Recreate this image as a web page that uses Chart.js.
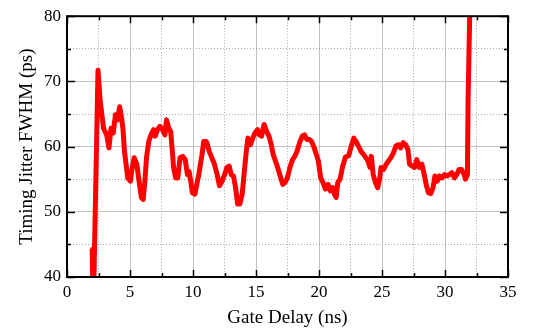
<!DOCTYPE html>
<html>
<head>
<meta charset="utf-8">
<script src="https://cdn.jsdelivr.net/npm/chart.js@4.4.1/dist/chart.umd.min.js"></script>
<style>
  html, body { margin: 0; padding: 0; background: #fff; }
  #wrap { width: 537px; height: 328px; }
</style>
</head>
<body>
<div id="wrap"><canvas id="myChart" width="537" height="328"></canvas></div>
<script>
// gate delay (ns) and timing jitter FWHM (ps)
var gateDelay = [
  2.0, 2.05, 2.12, 2.46, 2.64, 2.9, 3.15, 3.33, 3.49, 3.67, 3.85, 4.0, 4.18, 4.31, 4.44, 4.56, 4.69, 4.82,
  5.03, 5.13, 5.33, 5.54, 5.72, 5.9, 6.05, 6.18, 6.31, 6.49, 6.67, 6.87, 7.0, 7.18, 7.38, 7.59, 7.77, 7.9,
  8.08, 8.23, 8.36, 8.46, 8.62, 8.79, 8.97, 9.18, 9.38, 9.56, 9.69, 9.82, 9.95, 10.15, 10.33, 10.46, 10.59,
  10.72, 10.85, 11.03, 11.1, 11.28, 11.49, 11.67, 11.92, 12.1, 12.31, 12.51, 12.69, 12.87, 13.03, 13.21,
  13.38, 13.54, 13.72, 13.9, 14.05, 14.23, 14.36, 14.56, 14.74, 14.92, 15.13, 15.26, 15.44, 15.64, 15.85,
  16.03, 16.21, 16.36, 16.54, 16.72, 16.92, 17.13, 17.31, 17.49, 17.69, 17.9, 18.08, 18.26, 18.46, 18.67,
  18.85, 19.03, 19.23, 19.41, 19.62, 19.79, 19.95, 20.13, 20.31, 20.51, 20.72, 20.9, 21.08, 21.23, 21.36,
  21.49, 21.67, 21.88, 22.1, 22.36, 22.55, 22.76, 22.94, 23.12, 23.32, 23.53, 23.71, 23.89, 24.05, 24.15,
  24.3, 24.48, 24.66, 24.82, 24.92, 25.13, 25.34, 25.52, 25.7, 25.9, 26.11, 26.29, 26.47, 26.68, 26.88,
  27.06, 27.19, 27.4, 27.58, 27.76, 27.96, 28.17, 28.35, 28.53, 28.69, 28.87, 29.05, 29.2, 29.38, 29.56,
  29.77, 29.97, 30.15, 30.34, 30.54, 30.75, 30.93, 31.11, 31.31, 31.52, 31.62, 31.78, 31.83, 31.96, 32.0
];
var jitter = [
  44.3, 38, 38, 71.7, 66.9, 62.8, 61.8, 59.8, 62.8, 62.1, 64.9, 64.1, 66.1, 64.6, 62.8, 59.3, 57.3, 55.2,
  54.7, 56.2, 58.3, 57.3, 54.7, 52.2, 51.9, 54.7, 58.3, 60.8, 61.8, 62.6, 61.6, 62.6, 63.1, 62.6, 61.8, 64.1,
  62.8, 62.3, 59.3, 56.8, 55.2, 55.2, 58.3, 58.5, 58.0, 55.7, 56.2, 54.7, 52.9, 52.7, 54.5, 55.7, 57.3,
  58.8, 60.8, 60.8, 60.6, 59.3, 58.3, 57.5, 55.7, 54.0, 54.7, 55.7, 56.8, 57.0, 55.7, 55.5,
  53.7, 51.2, 51.2, 52.7, 55.7, 59.3, 61.3, 60.3, 61.3, 62.1, 62.6, 61.8, 61.6, 63.4, 62.3,
  61.6, 60.3, 58.8, 57.8, 56.8, 55.5, 54.2, 54.5, 55.2, 56.8, 58.0, 58.5, 59.3, 60.6, 61.6,
  61.8, 61.1, 61.1, 60.8, 59.8, 58.8, 57.8, 55.2, 54.5, 53.5, 54.2, 53.2, 53.7, 52.7, 52.2,
  54.5, 55.0, 57.0, 58.4, 58.6, 60.0, 61.3, 60.8, 60.1, 59.3, 58.8, 58.3, 57.8, 56.8, 58.5,
  55.7, 54.5, 53.7, 55.2, 56.8, 56.5, 57.3, 57.8, 58.3, 59.0, 60.1, 60.3, 59.8, 60.6, 60.3,
  59.5, 57.3, 57.0, 56.8, 58.0, 56.8, 57.3, 55.7, 54.0, 52.9, 52.8, 53.7, 55.5, 54.7, 55.5,
  55.2, 55.7, 55.5, 55.7, 56.0, 55.2, 55.7, 56.5, 56.5, 55.7, 55.0, 55.7, 66.9, 80, 86
];

var xMin = 0, xMax = 35, xStep = 2.5, xLabelEvery = 5;
var yMin = 40, yMax = 80, yStep = 5, yLabelEvery = 10;

var serif = "'Liberation Serif', 'Times New Roman', serif";

var points = gateDelay.map(function (x, i) { return { x: x, y: jitter[i] }; });

function isMajor(v, every) {
  return Math.abs(v / every - Math.round(v / every)) < 1e-6;
}

// black frame with inward ticks on all four sides
var frameTicks = {
  id: "frameTicks",
  afterDatasetsDraw: function (chart) {
    var ctx = chart.ctx, a = chart.chartArea;
    var xs = chart.scales.x, ys = chart.scales.y;
    ctx.save();
    ctx.strokeStyle = "#000";
    ctx.lineWidth = 1.5;
    ctx.beginPath();
    xs.ticks.forEach(function (t) {
      var px = Math.round(xs.getPixelForValue(t.value)) + 0.5;
      var len = isMajor(t.value, xLabelEvery) ? 7 : 4;
      ctx.moveTo(px, a.bottom); ctx.lineTo(px, a.bottom - len);
      ctx.moveTo(px, a.top); ctx.lineTo(px, a.top + len);
    });
    ys.ticks.forEach(function (t) {
      var py = Math.round(ys.getPixelForValue(t.value)) + 0.5;
      var len = isMajor(t.value, yLabelEvery) ? 8 : 4;
      ctx.moveTo(a.left, py); ctx.lineTo(a.left + len, py);
      ctx.moveTo(a.right, py); ctx.lineTo(a.right - len, py);
    });
    ctx.stroke();
    ctx.lineWidth = 2;
    ctx.strokeRect(a.left, a.top, a.right - a.left, a.bottom - a.top);
    ctx.restore();
  }
};

function gridColor(every) {
  return function (c) {
    if (!c.tick) return "#bdbdbd";
    return isMajor(c.tick.value, every) ? "#c2c2c2" : "#a8a8a8";
  };
}
function gridDash(every) {
  return function (c) {
    if (!c.tick) return [];
    return isMajor(c.tick.value, every) ? [] : [1, 2];
  };
}

new Chart("myChart", {
  type: "line",
  data: {
    datasets: [
      {
        data: points,
        borderColor: "#ff0000",
        borderWidth: 5,
        pointRadius: 0,
        tension: 0,
        fill: false,
        borderJoinStyle: "round",
        borderCapStyle: "butt"
      }
    ]
  },
  options: {
    responsive: false,
    animation: false,
    events: [],
    layout: { padding: { left: 0, right: 29, top: 14, bottom: 0 } },
    plugins: { legend: { display: false }, tooltip: { enabled: false } },
    scales: {
      x: {
        type: "linear",
        min: xMin,
        max: xMax,
        afterFit: function (s) { s.height = 51; },
        ticks: {
          stepSize: xStep,
          autoSkip: false,
          maxRotation: 0,
          padding: 5,
          color: "#000",
          font: { family: serif, size: 17 },
          callback: function (v) { return isMajor(v, xLabelEvery) ? v : ""; }
        },
        grid: { drawTicks: false, color: gridColor(xLabelEvery), lineWidth: 1 },
        border: { display: false, dash: gridDash(xLabelEvery) },
        title: {
          display: true,
          text: "Gate Delay (ns)",
          color: "#000",
          font: { family: serif, size: 19, lineHeight: 1.0 },
          padding: { top: 0, bottom: 0 }
        }
      },
      y: {
        min: yMin,
        max: yMax,
        afterFit: function (s) { s.width = 67; },
        ticks: {
          stepSize: yStep,
          autoSkip: false,
          padding: 6,
          color: "#000",
          font: { family: serif, size: 17 },
          callback: function (v) { return isMajor(v, yLabelEvery) ? v : ""; }
        },
        grid: { drawTicks: false, color: gridColor(yLabelEvery), lineWidth: 1 },
        border: { display: false, dash: gridDash(yLabelEvery) },
        title: {
          display: true,
          text: "Timing Jitter FWHM (ps)",
          color: "#000",
          font: { family: serif, size: 19 },
          padding: { top: 16, bottom: 0 }
        }
      }
    }
  },
  plugins: [frameTicks]
});
</script>
</body>
</html>
